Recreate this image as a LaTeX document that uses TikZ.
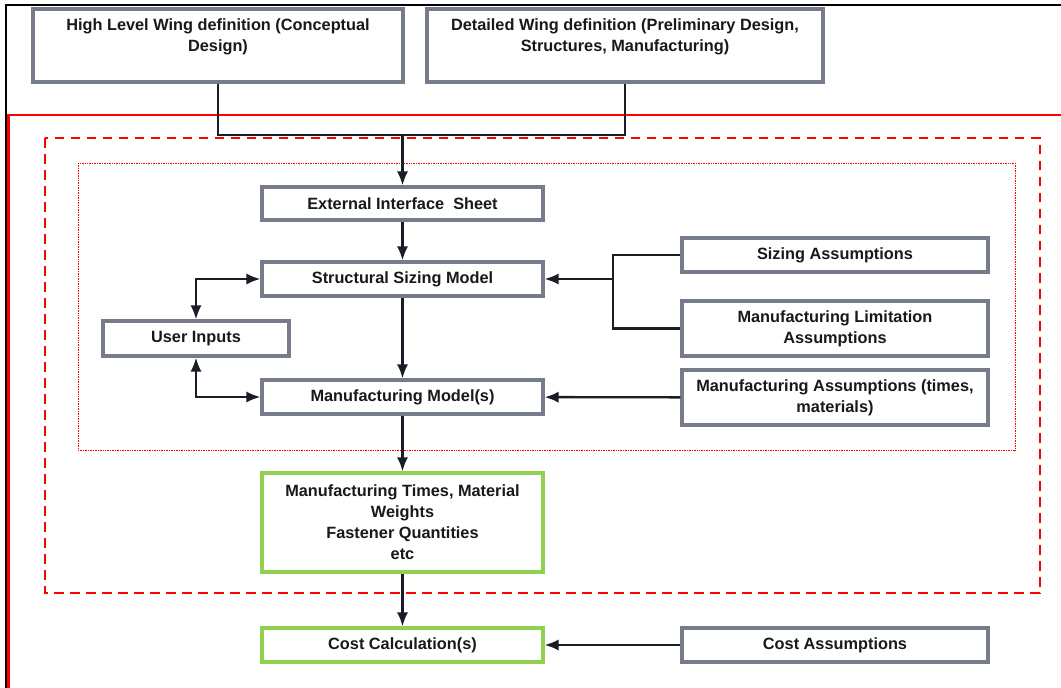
\documentclass[tikz,border=0pt]{standalone}
\usepackage{fontspec}
\setmainfont{Liberation Sans}
\usetikzlibrary{arrows.meta}
\definecolor{boxgray}{RGB}{118,124,140}
\definecolor{boxgreen}{RGB}{146,208,80}
\definecolor{linedark}{RGB}{26,28,38}
\definecolor{txtdark}{RGB}{25,25,25}
\tikzset{
  sz/.style 2 args={minimum width=#1*0.025cm,minimum height=#2*0.025cm},
  blk/.style={draw=boxgray,line width=2.2pt,fill=white,inner sep=0pt,align=center,
    text=txtdark,font=\bfseries\fontsize{11.6}{15}\selectfont},
  res/.style={blk,draw=boxgreen},
  line/.style={draw=linedark,line width=1.7pt},
  arr/.style={line,-{Latex[length=10pt,width=8pt]}},
  arrs/.style={line,{Latex[length=10pt,width=8pt]}-{Latex[length=10pt,width=8pt]}}
}
\begin{document}
\begin{tikzpicture}[x=0.025cm,y=-0.025cm]
\useasboundingbox (0,0) rectangle (1061,688);
%
\draw[line width=2pt] (6,688)--(6,5)--(1061,5);
\draw[red,line width=2pt] (8.5,688)--(8.5,115)--(1061,115);
\draw[red,line width=2.1pt,dash pattern=on 0.24cm off 0.16cm] (45,138) rectangle (1040,593);
\draw[red,line width=0.7pt,dash pattern=on 0.6pt off 0.6pt] (78,163) rectangle (1015,450);
%
\node[blk,sz={370}{73}] (hl) at (218,45.5) {High Level Wing definition (Conceptual\\Design)\\~};
\node[blk,sz={396}{73}] (dw) at (625,45.5) {Detailed Wing definition (Preliminary Design,\\Structures, Manufacturing)\\~};
\node[blk,sz={281}{33}] (eis) at (402.5,203.5) {External Interface\ \ Sheet};
\node[blk,sz={281}{34}] (ssm) at (402.5,279) {Structural Sizing Model};
\node[blk,sz={186}{35}] (ui) at (196,338.5) {User Inputs};
\node[blk,sz={281}{34}] (mm) at (402.5,397) {Manufacturing Model(s)};
\node[blk,sz={306}{34}] (sa) at (835,255) {Sizing Assumptions};
\node[blk,sz={306}{55}] (mla) at (835,328.5) {Manufacturing Limitation\\Assumptions};
\node[blk,sz={306}{55}] (ma) at (835,397.5) {Manufacturing Assumptions (times,\\materials)};
\node[res,sz={281}{99}] (mt) at (402.5,522.5) {Manufacturing Times, Material\\Weights\\Fastener Quantities\\etc};
\node[res,sz={281}{34}] (cc) at (402.5,645) {Cost Calculation(s)};
\node[blk,sz={306}{34}] (ca) at (835,645) {Cost Assumptions};
%
\coordinate (join) at (eis.north |- 0,135);
\coordinate (split) at (613,0 |- ssm.east);
\draw[line] (hl.south) |- (join) -| (dw.south);
\draw[arr] (join)--(eis);
\draw[arr] (eis)--(ssm);
\draw[arr] (ssm)--(mm);
\draw[arr] (mm)--(mt);
\draw[arr] (mt)--(cc);
\draw[line] (sa.west) -| (split);
\draw[line] (mla.west) -| (split);
\draw[arr] (split)--(ssm.east);
\draw[arr] (ma)--(mm);
\draw[arr] (ca)--(cc);
\draw[arrs] (ui.north) |- (ssm.west);
\draw[arrs] (ui.south) |- (mm.west);
\end{tikzpicture}
\end{document}
